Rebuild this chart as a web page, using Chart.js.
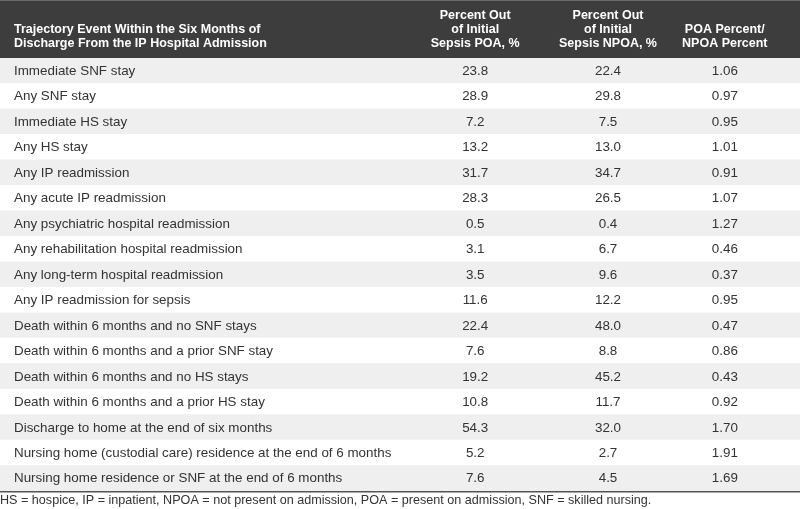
<!DOCTYPE html>
<html>
<head>
<meta charset="utf-8">
<script src="https://cdn.jsdelivr.net/npm/chart.js@4"></script>
<style>
  html, body { margin: 0; padding: 0; background: #fff; }
  #wrap { width: 800px; height: 509px; position: relative; }
</style>
</head>
<body>
<div id="wrap"><canvas id="c"></canvas></div>
<script>
const rowLabels = [
  "Immediate SNF stay",
  "Any SNF stay",
  "Immediate HS stay",
  "Any HS stay",
  "Any IP readmission",
  "Any acute IP readmission",
  "Any psychiatric hospital readmission",
  "Any rehabilitation hospital readmission",
  "Any long-term hospital readmission",
  "Any IP readmission for sepsis",
  "Death within 6 months and no SNF stays",
  "Death within 6 months and a prior SNF stay",
  "Death within 6 months and no HS stays",
  "Death within 6 months and a prior HS stay",
  "Discharge to home at the end of six months",
  "Nursing home (custodial care) residence at the end of 6 months",
  "Nursing home residence or SNF at the end of 6 months"
];
const poaPercent = [23.8, 28.9, 7.2, 13.2, 31.7, 28.3, 0.5, 3.1, 3.5, 11.6, 22.4, 7.6, 19.2, 10.8, 54.3, 5.2, 7.6];
const npoaPercent = [22.4, 29.8, 7.5, 13.0, 34.7, 26.5, 0.4, 6.7, 9.6, 12.2, 48.0, 8.8, 45.2, 11.7, 32.0, 2.7, 4.5];
const ratio = [1.06, 0.97, 0.95, 1.01, 0.91, 1.07, 1.27, 0.46, 0.37, 0.95, 0.47, 0.86, 0.43, 0.92, 1.70, 1.91, 1.69];
const headerFirst = ["Trajectory Event Within the Six Months of", "Discharge From the IP Hospital Admission"];
const headerPoa = ["Percent Out", "of Initial", "Sepsis POA, %"];
const headerNpoa = ["Percent Out", "of Initial", "Sepsis NPOA, %"];
const headerRatio = ["POA Percent/", "NPOA Percent"];
const footnote = "HS = hospice, IP = inpatient, NPOA = not present on admission, POA = present on admission, SNF = skilled nursing.";

const COL_LEFT = 0.0175, COL_POA = 0.594, COL_NPOA = 0.76, COL_RATIO = 0.906;
const FONT = '"Liberation Sans", Arial, sans-serif';

const tablePlugin = {
  id: 'tableText',
  beforeDraw(chart) {
    const ctx = chart.ctx, a = chart.chartArea;
    ctx.save();
    ctx.fillStyle = '#fff';
    ctx.fillRect(0, 0, chart.width, chart.height);
    ctx.fillStyle = '#3d3d3e';
    ctx.fillRect(0, 0, chart.width, a.top);
    ctx.fillStyle = '#6a6a6a';
    ctx.fillRect(0, 0, chart.width, 1);
    ctx.restore();
  },
  afterDatasetsDraw(chart) {
    const ctx = chart.ctx, a = chart.chartArea;
    const xs = chart.scales.x, ys = chart.scales.y;
    ctx.save();
    // header
    ctx.fillStyle = '#ffffff';
    ctx.font = 'bold 12.5px ' + FONT;
    ctx.textBaseline = 'middle';
    const hy = [16, 30, 44];
    ctx.textAlign = 'left';
    headerFirst.forEach((t, i) => ctx.fillText(t, xs.getPixelForValue(COL_LEFT), hy[i + 1]));
    ctx.textAlign = 'center';
    headerPoa.forEach((t, i) => ctx.fillText(t, xs.getPixelForValue(COL_POA), hy[i]));
    headerNpoa.forEach((t, i) => ctx.fillText(t, xs.getPixelForValue(COL_NPOA), hy[i]));
    headerRatio.forEach((t, i) => ctx.fillText(t, xs.getPixelForValue(COL_RATIO), hy[i + 1]));
    // body
    ctx.fillStyle = '#333333';
    ctx.font = '13.4px ' + FONT;
    rowLabels.forEach((lab, i) => {
      const y = ys.getPixelForValue(i) + 0.5;
      ctx.textAlign = 'left';
      ctx.fillText(lab, xs.getPixelForValue(COL_LEFT), y);
      ctx.textAlign = 'center';
      ctx.fillText(poaPercent[i].toFixed(1), xs.getPixelForValue(COL_POA), y);
      ctx.fillText(npoaPercent[i].toFixed(1), xs.getPixelForValue(COL_NPOA), y);
      ctx.fillText(ratio[i].toFixed(2), xs.getPixelForValue(COL_RATIO), y);
    });
    // bottom rule
    ctx.fillStyle = '#555555';
    ctx.fillRect(0, a.bottom, chart.width, 1.5);
    // footnote
    ctx.fillStyle = '#333333';
    ctx.font = '12.6px ' + FONT;
    ctx.textAlign = 'left';
    ctx.fillText(footnote, 0, a.bottom + 9.5);
    ctx.restore();
  }
};

new Chart(document.getElementById('c'), {
  type: 'bar',
  data: {
    labels: rowLabels,
    datasets: [{
      data: rowLabels.map(() => [0, 1]),
      backgroundColor: rowLabels.map((_, i) => i % 2 === 0 ? '#efefef' : '#ffffff'),
      borderWidth: 0,
      barPercentage: 1,
      categoryPercentage: 1
    }]
  },
  options: {
    indexAxis: 'y',
    responsive: true,
    maintainAspectRatio: false,
    animation: false,
    layout: { padding: { top: 58, bottom: 18, left: 0, right: 0 } },
    plugins: { legend: { display: false }, tooltip: { enabled: false } },
    scales: {
      x: { type: 'linear', min: 0, max: 1, display: false },
      y: { type: 'category', display: false, offset: true }
    }
  },
  plugins: [tablePlugin]
});
</script>
</body>
</html>
